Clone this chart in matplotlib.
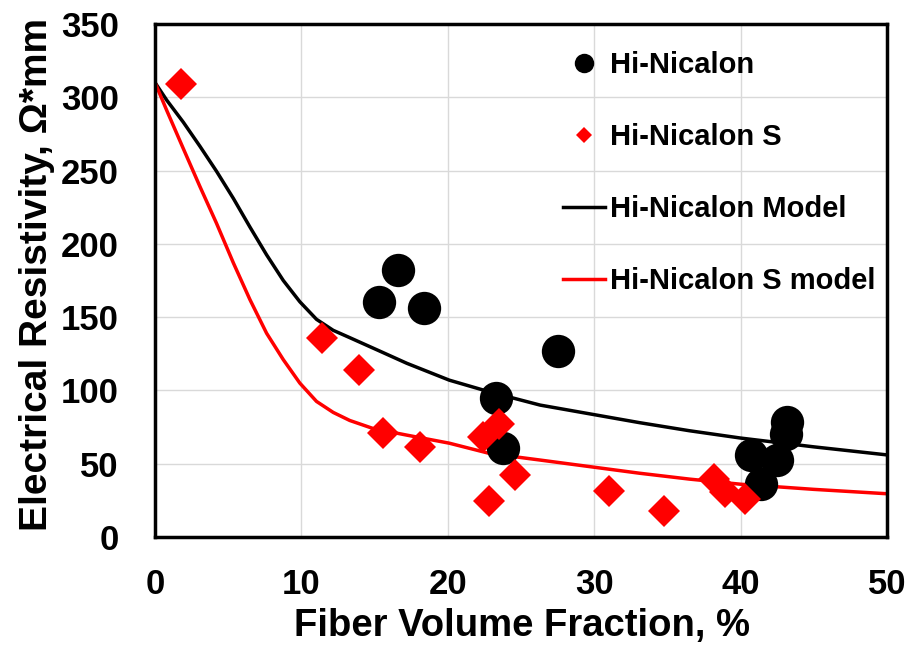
import matplotlib
matplotlib.use('Agg')
from matplotlib import pyplot as plt
from matplotlib.lines import Line2D

plt.rcParams['font.family'] = ['Liberation Sans', 'DejaVu Sans']
plt.rcParams['font.weight'] = 'bold'

# measured points
hn_x = [16.6, 15.3, 18.4, 27.5, 23.3, 23.8, 43.2, 43.1, 40.7, 42.5, 41.4]
hn_y = [182, 160.5, 156.5, 127, 94.5, 60.5, 78.5, 70, 56, 52.5, 36]

hns_x = [1.8, 11.4, 13.9, 15.6, 18.1, 22.4, 23.5, 24.6, 22.8, 31.0, 34.8, 38.2, 38.9, 40.3]
hns_y = [309, 135.5, 114, 71, 61.5, 68, 77, 42.5, 24.5, 31.5, 18, 39.5, 31, 26]

# model curves
hn_model_x = [0, 0.8, 1.93, 3.07, 4.2, 5.35, 6.48, 7.62, 8.76, 9.89, 11.03, 12.17, 13.3,
              15.2, 17.2, 20.1, 22.85, 26.3, 29.7, 33.1, 36.5, 40, 45, 50]
hn_model_y = [310, 298, 283, 266.5, 249.5, 231, 211.5, 192.5, 175, 160.5, 148.5, 141, 136,
              127.5, 118.5, 107, 99, 90, 84, 78, 72.5, 67.5, 61.5, 56]

hns_model_x = [0, 0.8, 1.93, 3.07, 4.2, 5.35, 6.48, 7.62, 8.76, 9.89, 11.03, 12.17, 13.3,
               14.9, 17.2, 20.1, 22.85, 26.3, 29.7, 33.1, 36.5, 40, 45, 50]
hns_model_y = [310, 291, 265, 239, 214, 187, 162, 139, 121, 105, 92.5, 85, 79.5,
               74, 69.5, 64, 57, 52.5, 48, 43.5, 39.5, 36, 32.5, 29.5]

fig = plt.figure(figsize=(9.12, 6.48), dpi=100)
ax = fig.add_axes([0.170, 0.1713, 0.8026, 0.7917])

ax.plot(hn_model_x, hn_model_y, color='black', lw=2.5, zorder=2)
ax.plot(hns_model_x, hns_model_y, color='red', lw=2.5, zorder=2)
ax.plot(hn_x, hn_y, 'o', color='black', ms=24, mew=0, zorder=3)
ax.plot(hns_x, hns_y, 'D', color='red', ms=16, mew=0, zorder=4)

ax.set_xlim(0, 50)
ax.set_ylim(0, 350)
ax.set_xticks(range(0, 51, 10))
ax.set_yticks(range(0, 351, 50))
ax.grid(True, color='#d9d9d9', lw=1.0)
ax.set_axisbelow(True)
for s in ax.spines.values():
    s.set_linewidth(2.5)
    s.set_color('black')
ax.tick_params(axis='both', length=0, labelsize=25)
ax.tick_params(axis='y', pad=26)
ax.tick_params(axis='x', pad=22)

ax.set_xlabel('Fiber Volume Fraction, %', fontsize=27.5, fontweight='bold')
ax.set_ylabel('Electrical Resistivity, Ω*mm', fontsize=28, fontweight='bold')
ax.xaxis.set_label_coords(0.501, -0.138)
ax.yaxis.set_label_coords(-0.137, 0.511)

handles = [
    Line2D([], [], ls='none', marker='o', color='black', ms=14, mew=0),
    Line2D([], [], ls='none', marker='D', color='red', ms=8.5, mew=0),
    Line2D([], [], color='black', lw=2.5),
    Line2D([], [], color='red', lw=2.5),
]
labels = ['Hi-Nicalon', 'Hi-Nicalon S', 'Hi-Nicalon Model', 'Hi-Nicalon S model']
leg = ax.legend(handles, labels, loc='upper left', bbox_to_anchor=(0.557, 0.947),
                frameon=False, fontsize=21, labelspacing=1.51, handlelength=1.45,
                handletextpad=0.17, borderpad=0, borderaxespad=0)

fig.savefig('out.png', dpi=100)
